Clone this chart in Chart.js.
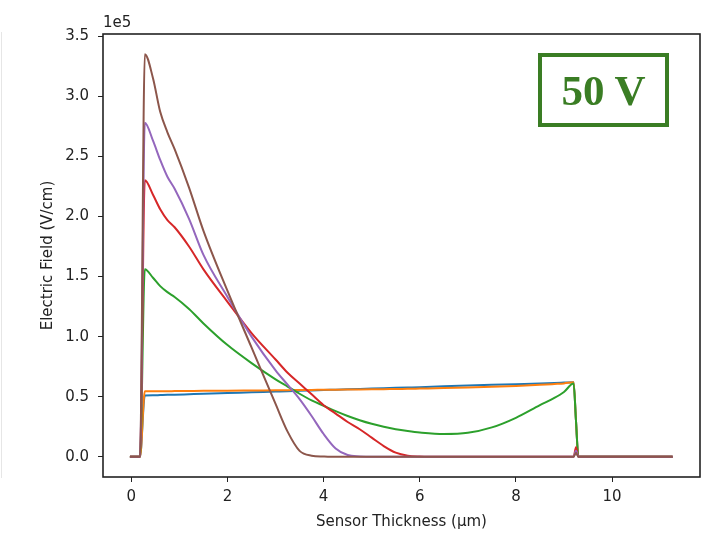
<!DOCTYPE html>
<html lang="en">
<head>
    <meta charset="UTF-8">
    <title>Electric Field - 50 V</title>
    <script src="https://cdn.jsdelivr.net/npm/chart.js"></script>
    <style>
        body {
            margin: 0;
            background-color: #ffffff;
        }
        .wrap {
            position: relative;
            width: 720px;
            height: 535px;
        }
        .edge {
            position: absolute;
            left: 1px;
            top: 32px;
            width: 1px;
            height: 446px;
            background-color: #e6e6e6;
        }
        .badge {
            position: absolute;
            left: 538px;
            top: 53px;
            width: 131px;
            height: 74px;
            box-sizing: border-box;
            border: 4px solid #3a7d24;
            color: #3a7d24;
            font: bold 43px "Liberation Serif", serif;
            display: flex;
            align-items: center;
            justify-content: center;
        }
    </style>
</head>
<body>
    <div class="wrap">
        <canvas id="campoCanvas" width="720" height="535"></canvas>
        <div class="edge"></div>
        <div class="badge">50 V</div>
    </div>

    <script>
        // profundidade no sensor (um) - grade comum a todas as curvas
        const thickness = [-0.03, 0.18, 0.28, 0.45, 0.6, 0.75, 0.9, 1.2, 1.5, 2.0, 2.5, 3.0, 3.25, 3.5, 3.75, 4.0, 4.25, 4.5, 4.75, 5.0,
            5.25, 5.5, 5.75, 6.0, 6.5, 7.0, 7.5, 8.0, 8.5, 8.8, 9.0, 9.2, 9.25, 9.3, 9.35, 11.26];

        // campo eletrico, em unidades de 1e5 V/cm
        const fieldBlue = [0, 0, 0.51, 0.512, 0.514, 0.516, 0.517, 0.521, 0.525, 0.531, 0.537, 0.543, 0.546, 0.550, 0.553, 0.556, 0.559, 0.562, 0.565, 0.568,
            0.571, 0.574, 0.577, 0.580, 0.587, 0.593, 0.599, 0.605, 0.611, 0.615, 0.618, 0.621, 0.3, 0, 0, 0];
        const fieldOrange = [0, 0, 0.545, 0.545, 0.546, 0.546, 0.547, 0.548, 0.549, 0.550, 0.552, 0.554, 0.555, 0.556, 0.557, 0.558, 0.559, 0.560, 0.561, 0.562,
            0.563, 0.565, 0.566, 0.568, 0.572, 0.577, 0.583, 0.590, 0.599, 0.606, 0.611, 0.621, 0.3, 0, 0, 0];
        const fieldGreen = [0, 0, 1.56, 1.49, 1.42, 1.37, 1.33, 1.23, 1.11, 0.93, 0.78, 0.645, 0.585, 0.525, 0.47, 0.425, 0.38, 0.34, 0.305, 0.275,
            0.25, 0.23, 0.215, 0.203, 0.19, 0.20, 0.245, 0.325, 0.43, 0.49, 0.54, 0.61, 0.3, 0, 0, 0];
        const fieldRed = [0, 0, 2.30, 2.18, 2.06, 1.97, 1.91, 1.75, 1.56, 1.29, 1.03, 0.81, 0.70, 0.61, 0.52, 0.43, 0.36, 0.29, 0.23, 0.16,
            0.09, 0.035, 0.01, 0.003, 0, 0, 0, 0, 0, 0, 0, 0, 0.08, 0, 0, 0];
        const fieldPurple = [0, 0, 2.78, 2.63, 2.47, 2.33, 2.23, 1.98, 1.68, 1.33, 1.00, 0.72, 0.60, 0.48, 0.34, 0.19, 0.07, 0.015, 0.004, 0,
            0, 0, 0, 0, 0, 0, 0, 0, 0, 0, 0, 0, 0.05, 0, 0, 0];
        const fieldBrown = [0, 0, 3.35, 3.15, 2.87, 2.70, 2.56, 2.24, 1.88, 1.38, 0.91, 0.44, 0.21, 0.05, 0.01, 0.003, 0, 0, 0, 0,
            0, 0, 0, 0, 0, 0, 0, 0, 0, 0, 0, 0, 0.035, 0, 0, 0];

        const xTicks = [0, 2, 4, 6, 8, 10];
        const yTicks = [0, 0.5, 1.0, 1.5, 2.0, 2.5, 3.0, 3.5];

        const series = [
            { values: fieldBlue, color: "#1f77b4" },
            { values: fieldOrange, color: "#ff7f0e" },
            { values: fieldGreen, color: "#2ca02c" },
            { values: fieldRed, color: "#d62728" },
            { values: fieldPurple, color: "#9467bd" },
            { values: fieldBrown, color: "#8c564b" }
        ];

        const fonte = { family: "DejaVu Sans", size: 15 };
        const corTexto = "#222222";

        // moldura completa + multiplicador "1e5" (estilo matplotlib)
        const moldura = {
            id: "moldura",
            afterDatasetsDraw(chart) {
                const { ctx, chartArea: a } = chart;
                ctx.save();
                ctx.strokeStyle = "#222222";
                ctx.lineWidth = 1.6;
                ctx.strokeRect(a.left, a.top, a.right - a.left, a.bottom - a.top);
                ctx.fillStyle = corTexto;
                ctx.font = "15px 'DejaVu Sans'";
                ctx.textAlign = "left";
                ctx.textBaseline = "alphabetic";
                ctx.fillText("1e5", a.left, 27);
                ctx.restore();
            }
        };

        const ctx = document.getElementById("campoCanvas").getContext("2d");
        new Chart(ctx, {
            type: "line",
            data: {
                datasets: series.map((s, i) => ({
                    data: thickness.map((x, j) => ({ x: x, y: s.values[j] })),
                    borderColor: s.color,
                    borderWidth: 2,
                    pointRadius: 0,
                    cubicInterpolationMode: "monotone",
                    fill: false,
                    order: series.length - i
                }))
            },
            options: {
                responsive: false,
                animation: false,
                devicePixelRatio: 1,
                layout: { padding: { left: 0, top: 34, right: 20, bottom: 0 } },
                plugins: {
                    legend: { display: false },
                    tooltip: { enabled: false }
                },
                scales: {
                    x: {
                        type: "linear",
                        min: -0.59,
                        max: 11.83,
                        afterBuildTicks: s => { s.ticks = xTicks.map(v => ({ value: v })); },
                        afterFit: s => { s.height = 58; },
                        grid: { drawOnChartArea: false, tickLength: 5, color: "#222222" },
                        border: { display: false },
                        ticks: { font: fonte, color: corTexto, padding: 6, maxRotation: 0, callback: v => String(v) },
                        title: {
                            display: true,
                            text: "Sensor Thickness (μm)",
                            font: fonte,
                            color: corTexto,
                            padding: { top: 0, bottom: 4 }
                        }
                    },
                    y: {
                        type: "linear",
                        min: -0.1675,
                        max: 3.5175,
                        afterBuildTicks: s => { s.ticks = yTicks.map(v => ({ value: v })); },
                        afterFit: s => { s.width = 103; },
                        grid: { drawOnChartArea: false, tickLength: 5, color: "#222222" },
                        border: { display: false },
                        ticks: { font: fonte, color: corTexto, padding: 9, callback: v => v.toFixed(1) },
                        title: {
                            display: true,
                            text: "Electric Field (V/cm)",
                            font: fonte,
                            color: corTexto,
                            padding: { top: 39, bottom: 0 }
                        }
                    }
                }
            },
            plugins: [moldura]
        });
    </script>
</body>
</html>
